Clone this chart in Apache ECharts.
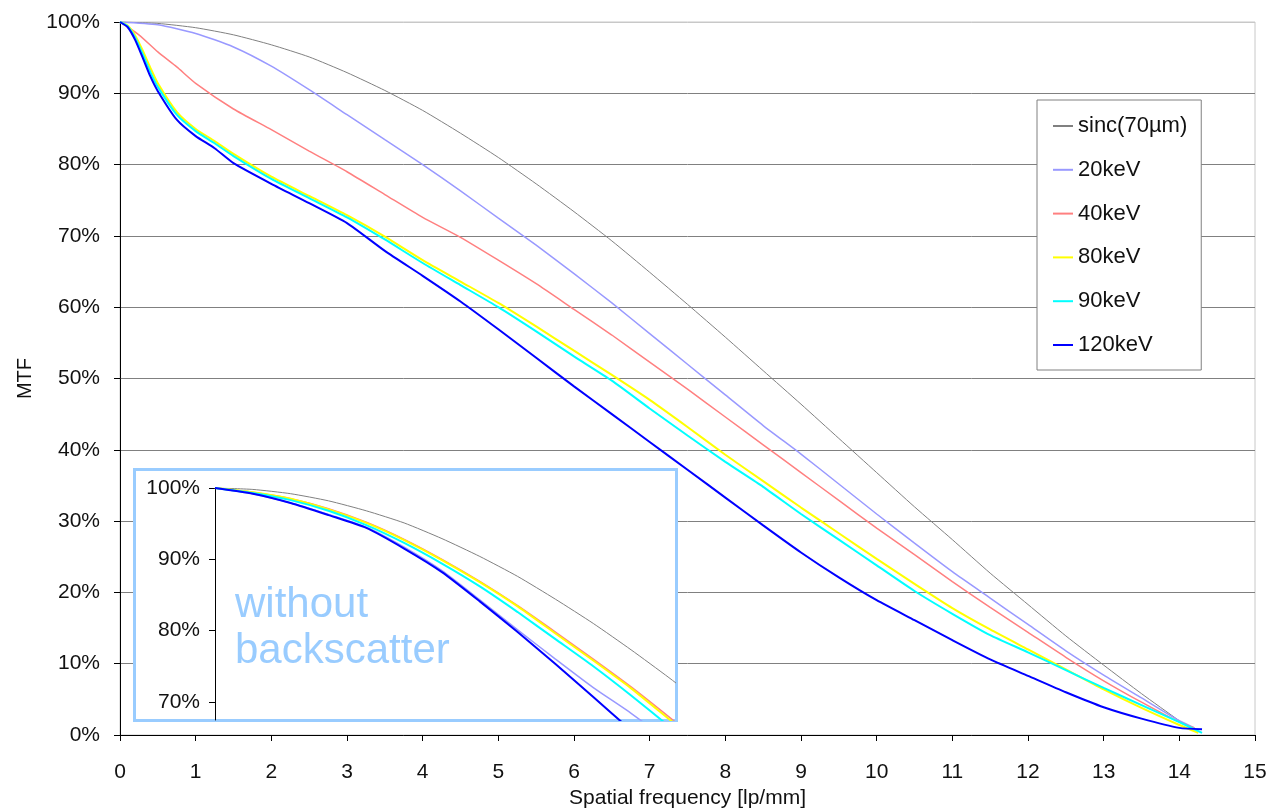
<!DOCTYPE html>
<html><head><meta charset="utf-8">
<script src="https://cdn.jsdelivr.net/npm/echarts@6/dist/echarts.min.js"></script>
<style>html,body{margin:0;padding:0;background:#fff}#c{width:1273px;height:809px}</style>
</head><body><div id="c"></div>
<script>
// ---------- data ----------
const seriesNames = ['sinc(70µm)', '20keV', '40keV', '80keV', '90keV', '120keV'];
const seriesColors = ['#808080', '#9999ff', '#ff8080', '#ffff00', '#00ffff', '#0000ff'];
const seriesWidths = [1, 1.5, 1.5, 2, 2, 2];

const xTickValues = [0,1,2,3,4,5,6,7,8,9,10,11,12,13,14,15];
const yTickValues = [0,10,20,30,40,50,60,70,80,90,100];
const insetTickValues = [70, 80, 90, 100];

// main chart (with backscatter)
const freqSinc = [0,0.5,1,1.5,2,2.5,3,3.5,4,4.5,5,5.5,6,6.5,7,7.5,8,8.5,9,9.5,10,10.5,11,11.5,12,12.5,13,13.5,14,14.2];
const sinc     = [100,99.8,99.2,98.2,96.8,95.1,92.9,90.4,87.6,84.4,81.0,77.3,73.4,69.3,64.9,60.4,55.8,51.1,46.4,41.6,36.8,32.0,27.4,22.7,18.3,13.9,9.8,5.8,2.0,0.6];

const freq20 = [0,0.5,1,1.5,2,2.5,3,3.5,4,4.5,5,5.5,6,6.5,7,7.5,8,8.5,9,9.5,10,10.5,11,11.5,12,12.5,13,13.5,14,14.2];
const kev20  = [100,99.6,98.4,96.5,93.8,90.5,87.0,83.5,80.0,76.3,72.5,68.7,64.7,60.6,56.3,52.0,47.7,43.4,39.4,35.2,31.0,26.9,22.9,19.2,15.5,11.8,8.4,5.2,2.0,1.0];

const freq40 = [0,0.25,0.5,0.75,1,1.5,2,2.5,3,3.5,4,4.5,5,5.5,6,6.5,7,7.5,8,8.5,9,9.5,10,10.5,11,11.5,12,12.5,13,13.5,14,14.2];
const kev40  = [100,98.2,95.8,93.7,91.4,87.8,84.9,81.9,79.0,75.8,72.6,69.8,66.6,63.3,59.7,56.1,52.3,48.5,44.6,40.7,36.8,32.9,29.0,25.3,21.5,17.9,14.4,10.9,7.6,4.6,1.8,1.0];

const freq80 = [0,0.1,0.2,0.3,0.4,0.5,0.75,1,1.25,1.5,2,2.5,3,3.5,4,4.5,5,5.5,6,6.5,7,7.5,8,8.5,9,9.5,10,10.5,11,11.5,12,12.5,13,13.5,14,14.25];
const kev80  = [100,99.5,98.1,96.0,93.6,91.4,87.4,85.0,83.3,81.5,78.3,75.6,72.9,69.9,66.6,63.6,60.6,57.3,53.9,50.5,47.0,43.2,39.3,35.6,31.9,28.3,24.7,21.2,17.8,14.8,12.0,9.2,6.4,3.8,1.4,0.3];

const freq90 = [0,0.1,0.2,0.3,0.4,0.5,0.75,1,1.25,1.5,2,2.5,3,3.5,4,4.5,5,5.5,6,6.5,7,7.5,8,8.5,9,9.5,10,10.5,11,11.5,12,12.5,13,13.5,14,14.3];
const kev90  = [100,99.4,97.8,95.5,93.0,90.9,87.0,84.7,83.0,81.2,78.0,75.3,72.6,69.5,66.2,63.1,60.0,56.6,53.1,49.7,45.8,42.0,38.3,34.8,31.0,27.4,23.8,20.2,17.0,14.0,11.6,9.1,6.6,4.2,1.8,0.3];

const freq120 = [0,0.1,0.2,0.3,0.4,0.5,0.75,1,1.25,1.5,2,2.5,3,3.5,4,4.5,5,5.5,6,6.5,7,7.5,8,8.5,9,9.5,10,10.5,11,11.5,12,12.5,13,13.5,14,14.3];
const kev120  = [100,99.3,97.5,95.0,92.4,90.3,86.3,84.0,82.3,80.2,77.3,74.6,71.8,67.9,64.4,60.8,56.9,52.9,48.9,45.0,41.1,37.2,33.3,29.4,25.6,22.1,18.9,16.1,13.3,10.6,8.3,6.0,3.9,2.3,1.0,0.8];

// inset (without backscatter)
const freqInset = [0,0.5,1,1.5,2,2.5,3,3.5,4,4.5,5,5.5,6,6.5];
const inset20  = [100,99.2,97.9,96.3,94.5,91.7,88.4,84.3,80.1,76.0,72.0,68.4,64.4,60.2];
const inset40  = [100,99.4,98.5,97.1,95.2,92.8,90.0,86.9,83.5,79.8,76.0,72.1,67.9,63.6];
const inset80  = [100,99.4,98.5,97.0,95.1,92.7,89.9,86.8,83.4,79.6,75.8,71.9,67.6,63.3];
const inset90  = [100,99.3,98.3,96.8,94.8,92.3,89.4,86.2,82.6,78.8,75.0,70.9,66.6,62.3];
const inset120 = [100,99.2,97.9,96.2,94.4,91.5,88.2,84.1,79.8,75.3,70.7,66.0,61.3,56.6];

// ---------- build ----------
const zip = (xs, ys) => xs.map((x, i) => [x, ys[i]]);
const mainData = [zip(freqSinc, sinc), zip(freq20, kev20), zip(freq40, kev40), zip(freq80, kev80), zip(freq90, kev90), zip(freq120, kev120)];
const insetData = [zip(freqSinc, sinc), zip(freqInset, inset20), zip(freqInset, inset40), zip(freqInset, inset80), zip(freqInset, inset90), zip(freqInset, inset120)];

const FONT = '"Liberation Sans", Arial, sans-serif';
const series = [];
seriesNames.forEach((n, i) => {
  series.push({
    name: n, type: 'line', xAxisIndex: 0, yAxisIndex: 0, data: mainData[i],
    symbol: 'none', smooth: 0.2, z: 2,
    lineStyle: { color: seriesColors[i], width: seriesWidths[i] },
    itemStyle: { color: seriesColors[i] }
  });
});
seriesNames.forEach((n, i) => {
  const s = {
    name: n, type: 'line', xAxisIndex: 1, yAxisIndex: 1, data: insetData[i],
    symbol: 'none', smooth: 0.2, z: 12, clip: true,
    lineStyle: { color: seriesColors[i], width: seriesWidths[i] },
    itemStyle: { color: seriesColors[i] }
  };
  if (i === 0) {
    s.markLine = {
      silent: true, symbol: ['none', 'none'], label: { show: false },
      lineStyle: { color: '#808080', type: 'solid', width: 1 },
      data: insetTickValues.map(v => ({ yAxis: v, lineStyle: { color: v === 100 ? '#cccccc' : '#808080', type: 'solid', width: 1 } }))
    };
  }
  series.push(s);
});

const gridColors = yTickValues.map(v => v === 100 ? '#c8c8c8' : '#808080');
const legendData = seriesNames.map((n, i) => ({ name: n, icon: 'rect', itemStyle: { color: seriesColors[i] } }));

const chart = echarts.init(document.getElementById('c'), null, { renderer: 'canvas' });
chart.setOption({
  animation: false,
  backgroundColor: '#ffffff',
  textStyle: { fontFamily: FONT },
  grid: [
    { left: 120, top: 22, width: 1135, height: 713, outerBoundsMode: 'none', containLabel: false, show: true, borderColor: '#c8c8c8', borderWidth: 1, backgroundColor: 'transparent' },
    { left: 215, top: 488, width: 460, height: 232, outerBoundsMode: 'none', containLabel: false, show: false, z: 11 }
  ],
  xAxis: [
    {
      type: 'value', gridIndex: 0, min: 0, max: 15, interval: 1,
      name: 'Spatial frequency [lp/mm]', nameLocation: 'middle', nameGap: 52,
      nameTextStyle: { fontSize: 21, color: '#111', fontFamily: FONT },
      axisLine: { show: true, onZero: false, lineStyle: { color: '#000', width: 1 } },
      axisTick: { show: true, length: 6, lineStyle: { color: '#000' } },
      axisLabel: { fontSize: 21, color: '#111', margin: 27, fontFamily: FONT },
      splitLine: { show: false }
    },
    { type: 'value', gridIndex: 1, min: 0, max: 6.08, show: false, z: 12 }
  ],
  yAxis: [
    {
      type: 'value', gridIndex: 0, min: 0, max: 100, interval: 10,
      name: 'MTF', nameLocation: 'middle', nameGap: 76, nameRotate: 90,
      nameTextStyle: { fontSize: 20, color: '#111', fontFamily: FONT },
      axisLine: { show: true, onZero: false, lineStyle: { color: '#000', width: 1 } },
      axisTick: { show: true, length: 6, lineStyle: { color: '#000' } },
      axisLabel: { fontSize: 21, color: '#111', margin: 20, formatter: '{value}%', fontFamily: FONT },
      splitLine: { show: true, lineStyle: { color: gridColors, width: 1 } }
    },
    {
      type: 'value', gridIndex: 1, min: 67.46, max: 100, z: 12,
      axisLine: { show: true, onZero: false, lineStyle: { color: '#000', width: 1 } },
      axisTick: { show: true, length: 6, customValues: insetTickValues, lineStyle: { color: '#000' } },
      axisLabel: { fontSize: 21, color: '#111', margin: 15, formatter: '{value}%', customValues: insetTickValues, fontFamily: FONT },
      splitLine: { show: false }
    }
  ],
  legend: {
    data: legendData, orient: 'vertical', left: 1037, top: 100,
    padding: [15, 14, 14, 16], itemWidth: 20, itemHeight: 2, itemGap: 21.8,
    backgroundColor: '#fff', borderColor: '#808080', borderWidth: 1, borderRadius: 0,
    textStyle: { fontSize: 22, color: '#111', lineHeight: 22, height: 22, fontFamily: FONT },
    selectedMode: false
  },
  graphic: [
    { type: 'rect', z: 10, shape: { x: 134.5, y: 469.5, width: 542, height: 251 },
      style: { fill: '#ffffff', stroke: '#99ccff', lineWidth: 3 } },
    { type: 'text', z: 13, x: 235, y: 582,
      style: { text: 'without\nbackscatter', fill: '#99ccff', font: '42px "Liberation Sans", Arial, sans-serif', lineHeight: 46, verticalAlign: 'top' } }
  ],
  series: series
});
</script></body></html>
